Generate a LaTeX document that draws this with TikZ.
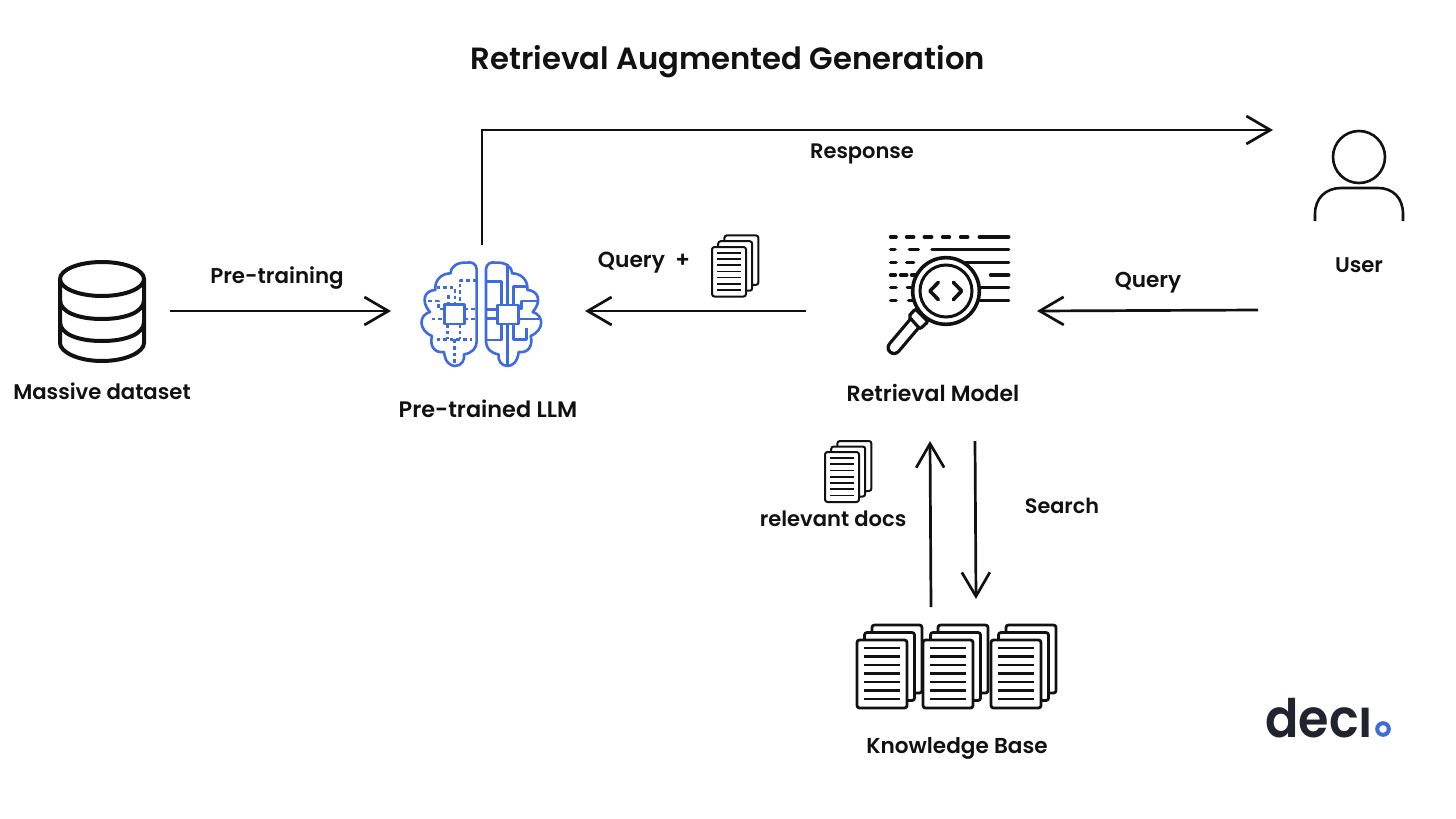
\documentclass[tikz,border=0pt]{standalone}
\usepackage{fontspec}
\setmainfont{Poppins}[BoldFont=Poppins SemiBold]
\usetikzlibrary{arrows.meta,calc}
\definecolor{ink}{HTML}{111111}
\definecolor{brainblue}{HTML}{3F6BE0}
\definecolor{logoink}{HTML}{20242E}
\tikzset{
  x=1pt,y=-1pt,
  lab/.style={font=\fontsize{#1}{24}\selectfont\bfseries,text=ink,inner sep=0pt,anchor=center},
  lab/.default=21.2,
  conn/.style={line width=2.7pt,draw=ink,-{Straight Barb[length=24pt,width=28pt,line width=2.7pt]}},
  iconbox/.style={inner sep=0pt,outer sep=0pt,draw=none,fill=none},
  page/.style={draw=ink,fill=white,rounded corners=2.5pt},
  txtline/.style={draw=ink,line cap=butt},
  brainline/.style={draw=brainblue,line width=2.6pt,line join=round},
  braindash/.style={brainline,dash pattern=on 3.6pt off 3pt},
  magline/.style={draw=ink,line width=3.6pt,line cap=round},
}
\newcommand{\docstack}[8]{%
  \begin{scope}[shift={(#1,#2)}]
    \draw[page,line width=#8] (2*#5,-2*#6) rectangle ++(#3,#4);
    \draw[page,line width=#8] (#5,-#6) rectangle ++(#3,#4);
    \draw[page,line width=#8] (0,0) rectangle ++(#3,#4);
    \foreach \k in {0,...,6}
      \draw[txtline,line width=#8*0.85] (#7,{#4*0.12+\k*#4*0.1245}) -- ++({#3-2*#7},0);
  \end{scope}}
\newcommand{\lobes}{%
  (230,305) -- (230,88) .. controls (230,72) and (215,64) .. (200,68)
  .. controls (175,66) and (152,78) .. (152,100)
  .. controls (125,100) and (103,120) .. (106,150)
  .. controls (78,150) and (58,180) .. (90,216)
  .. controls (56,225) and (54,270) .. (96,288)
  .. controls (88,320) and (105,340) .. (132,336)
  .. controls (135,365) and (150,378) .. (165,378)
  .. controls (185,378) and (195,360) .. (192,343)
  .. controls (215,340) and (230,325) .. (230,305) -- cycle}
\begin{document}
\begin{tikzpicture}
\useasboundingbox (0,0) rectangle (1456,819);
\fill[white] (0,0) rectangle (1456,819);

% title
\node[font=\fontsize{30.7}{36}\selectfont\bfseries,text=ink,inner sep=0pt] (title) at (728,62) {Retrieval Augmented Generation};

% invisible frames used by the connectors
\node[iconbox,minimum width=136pt,minimum height=110pt] (dataset) at (102,311) {};
\node[iconbox,minimum width=194pt,minimum height=132pt] (llm) at (488,311) {};
\node[iconbox,minimum width=231pt,minimum height=260pt] (retr) at (921.5,311) {};
\node[iconbox,minimum width=202pt,minimum height=360pt] (user) at (1359,310) {};
\node[iconbox,minimum width=200pt,minimum height=101pt] (kb) at (957,657.5) {};

% database
\begin{scope}[line width=4pt]
  \draw[ink] (102,279) ellipse [x radius=42,y radius=17];
  \draw[ink] (60,279) -- (60,343) .. controls (60,352) and (78,361) .. (102,361) .. controls (126,361) and (144,352) .. (144,343) -- (144,279);
  \draw[ink] (60,300) .. controls (60,312) and (78,319) .. (102,319) .. controls (126,319) and (144,312) .. (144,300);
  \draw[ink] (60,322) .. controls (60,334) and (78,341) .. (102,341) .. controls (126,341) and (144,334) .. (144,322);
\end{scope}

% brain
\begin{scope}[shift={(400,240)},x=0.3333pt,y=-0.3333pt]
  \draw[brainline] \lobes;
  \begin{scope}[shift={(488,0)},xscale=-1]
    \draw[brainline] \lobes;
  \end{scope}
  \draw[brainline] (133,193) rectangle (193,252);
  \draw[brainline] (293,195) rectangle (355,252);
  \foreach \p in {
    {(230,122) -- (180,122) -- (180,193)},
    {(110,143) -- (165,143) -- (165,193)},
    {(145,165) -- (145,193)},
    {(85,183) -- (115,183) -- (115,207) -- (133,207)},
    {(95,237) -- (133,237)},
    {(193,207) -- (230,207)},
    {(193,237) -- (230,237)},
    {(143,252) -- (143,298)},
    {(180,252) -- (180,298)},
    {(110,298) -- (215,298)},
    {(163,298) -- (163,375)}}
    {\draw[braindash] \p;}
  \draw[brainline] (323,72) -- (323,195) (323,252) -- (323,378);
  \draw[brainline] (258,125) -- (305,125) -- (305,195);
  \draw[brainline] (258,208) -- (293,208) (258,235) -- (293,235);
  \draw[brainline] (305,252) -- (305,300) -- (258,300);
  \draw[brainline] (340,195) -- (340,140) -- (382,140);
  \draw[brainline] (355,207) -- (365,207) -- (365,183) -- (415,183);
  \draw[brainline] (355,237) -- (417,237);
  \draw[brainline] (340,252) -- (340,298) -- (380,298) -- (380,265);
\end{scope}

% retrieval icon
\begin{scope}[shift={(870,225)},x=0.3333pt,y=-0.3333pt]
  \foreach \a/\b/\r in {
    62/78/36,110/131/36,163/185/36,218/238/36,272/293/36,328/416/36,
    62/75/74,118/145/74,186/416/74,
    62/78/112,110/131/112,200/416/112,
    62/76/150,92/110/150,125/140/150,362/416/150,
    62/78/188,112/125/188,330/416/188,
    62/78/226,116/130/226,330/416/226}
    {\draw[magline] (\a,\r) -- (\b,\r);}
  \draw[line width=3.6pt,draw=ink,fill=white] (228,198) circle (100);
  \draw[line width=3pt,draw=ink] (228,198) circle (78);
  \draw[magline,line join=round] (205,172) -- (180,198) -- (205,224);
  \draw[magline,line join=round] (250,172) -- (275,198) -- (250,224);
  \draw[ink,line width=15pt,line cap=round] (138,290) -- (72,368);
  \draw[white,line width=8.5pt,line cap=round] (138,290) -- (72,368);
  \draw[line width=3.2pt,draw=ink,fill=white,rounded corners=2pt] (136,252) -- (174,290) -- (150,312) -- (116,274) -- cycle;
\end{scope}

% user
\draw[ink,line width=2.6pt] (1359,157) circle (26);
\draw[ink,line width=2.6pt] (1315,221) -- (1315,214) .. controls (1315,198) and (1326,188) .. (1341,188) -- (1378,188) .. controls (1393,188) and (1403,198) .. (1403,214) -- (1403,221);

% documents
\docstack{712}{247}{34}{49.5}{6.2}{5.8}{5}{2pt}
\docstack{825}{452}{34}{50}{6.2}{5.5}{5}{2pt}
\docstack{857}{640}{50}{68}{7.5}{7.5}{7}{2.8pt}
\docstack{923}{640}{50}{68}{7.5}{7.5}{7}{2.8pt}
\docstack{991}{640}{50}{68}{7.5}{7.5}{7}{2.8pt}

% connectors
\draw[conn] (dataset.east) -- (llm.west);
\draw[conn] (retr.west) -- (llm.east);
\draw[conn] (user.west) -- (retr.east);
\draw[conn] ([xshift=-6pt]llm.north) |- ([xshift=15pt]user.north west);
\draw[conn] ([xshift=-26pt]kb.north) -- ([xshift=8.5pt]retr.south);
\draw[conn] ([xshift=53.5pt]retr.south) -- ([xshift=19pt,yshift=8pt]kb.north);

% labels
\node[lab] (ldata) at (102,391.5) {Massive dataset};
\node[lab=21.4] (lpre) at (277,278.5) {Pre-training};
\node[lab=22.4] (lllm) at (488,409) {Pre-trained LLM};
\node[lab=21.8] (lq1) at (644,263) {Query\ \ +};
\node[lab=22] (lrm) at (933,392.5) {Retrieval Model};
\node[lab=21.6] (lq2) at (1148,283) {Query};
\node[lab] (luser) at (1359,265) {User};
\node[lab=21] (lresp) at (862,154) {Response};
\node[lab=21.1] (lrel) at (833,519) {relevant docs};
\node[lab=20.8] (lsearch) at (1062,506) {Search};
\node[lab=21.6] (lkb) at (957,748) {Knowledge Base};

% logo
\node[font=\fontsize{53}{60}\selectfont\bfseries,text=logoink,inner sep=0pt,anchor=base west] (logo) at (1265,737) {\scalebox{0.93}[1]{decı}};
\draw[brainblue,line width=4pt] (1383,729) circle (5.8);
\end{tikzpicture}
\end{document}
